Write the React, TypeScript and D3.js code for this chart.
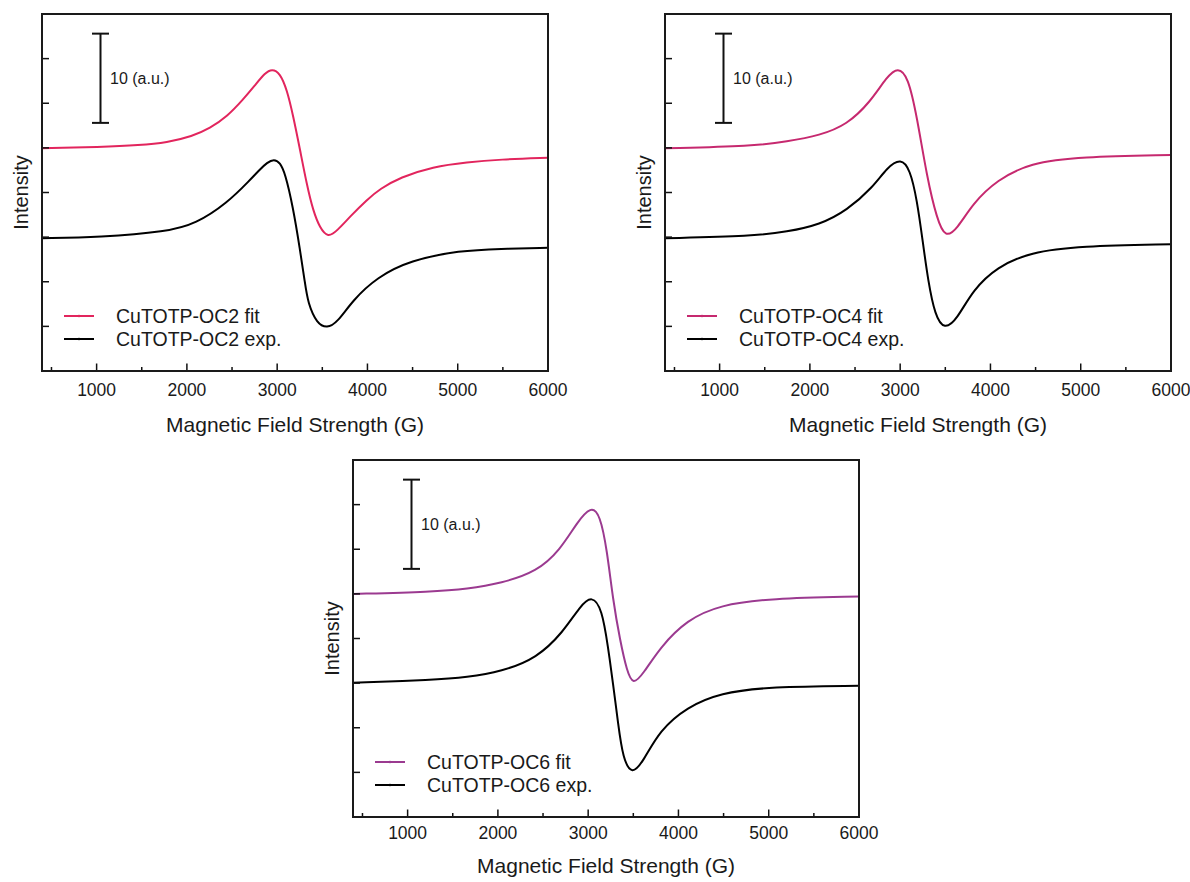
import React from 'react';
import * as d3 from 'd3';

const W = 1190;
const H = 882;

const fieldDomain: [number, number] = [395, 6000];
const intensityDomain: [number, number] = [0, 40];
const majorFieldTicks = [1000, 2000, 3000, 4000, 5000, 6000];
const minorFieldTicks = [500, 1500, 2500, 3500, 4500, 5500];
const intensityTicks = [5, 10, 15, 20, 25, 30, 35];
const scaleBarRange: [number, number] = [27.8, 37.8];
const scaleBarLabel = '10 (a.u.)';
const xTitle = 'Magnetic Field Strength (G)';
const yTitle = 'Intensity';

// [field (G), intensity (a.u.)]
const oc2Fit: [number, number][] = [
  [395, 24.95], [1037, 25.1], [1480, 25.3], [1780, 25.6], [2060, 26.3], [2256, 27.2],
  [2444, 28.5], [2621, 30.4], [2754, 32.0], [2865, 33.4], [2943, 33.85], [3031, 33.4],
  [3109, 31.5], [3175, 28.7], [3253, 24.8], [3330, 20.8], [3397, 18.0], [3474, 16.0],
  [3563, 14.95], [3663, 15.7], [3807, 17.3], [3995, 19.2], [4139, 20.4], [4361, 21.7],
  [4726, 22.9], [5103, 23.4], [5468, 23.7], [6000, 23.9],
];
const oc2Exp: [number, number][] = [
  [395, 14.87], [1037, 14.98], [1780, 15.6], [2100, 16.5], [2444, 18.8], [2699, 21.4],
  [2810, 22.6], [2888, 23.35], [2965, 23.75], [3031, 23.35], [3087, 22.2], [3175, 18.4],
  [3253, 13.6], [3308, 9.86], [3341, 7.6], [3441, 5.3], [3552, 4.8], [3663, 5.4],
  [3840, 7.96], [4106, 10.5], [4471, 12.4], [5025, 13.5], [5468, 13.7], [6000, 13.8],
];
const oc4Fit: [number, number][] = [
  [395, 24.95], [1370, 25.2], [1746, 25.7], [2112, 26.4], [2411, 27.6], [2666, 30.1],
  [2854, 33.0], [2976, 34.05], [3087, 33.0], [3186, 28.5], [3297, 21.7], [3408, 17.0],
  [3500, 14.9], [3630, 15.9], [3807, 18.8], [4073, 21.4], [4438, 23.3], [4992, 24.0],
  [6000, 24.2],
];
const oc4Exp: [number, number][] = [
  [395, 14.87], [1370, 15.1], [1746, 15.6], [2112, 16.4], [2411, 18.0], [2699, 20.6],
  [2854, 22.8], [3009, 23.85], [3109, 22.6], [3186, 19.2], [3253, 14.3], [3308, 10.2],
  [3386, 6.2], [3490, 4.6], [3630, 5.8], [3807, 9.1], [4073, 11.65], [4438, 13.3],
  [4992, 14.0], [6000, 14.2],
];
const oc6Fit: [number, number][] = [
  [395, 24.99], [1281, 25.24], [1658, 25.55], [2040, 26.2], [2433, 27.5], [2688, 29.9],
  [2876, 33.0], [3031, 34.85], [3131, 33.9], [3209, 29.9], [3275, 24.3], [3353, 19.8],
  [3430, 16.3], [3497, 14.8], [3607, 16.0], [3796, 19.0], [4095, 22.1], [4460, 23.75],
  [5014, 24.5], [6000, 24.7],
];
const oc6Exp: [number, number][] = [
  [395, 15.05], [1281, 15.35], [1658, 15.65], [2040, 16.3], [2433, 17.8], [2721, 20.7],
  [2909, 23.6], [3042, 24.85], [3153, 23.3], [3220, 19.05], [3275, 15.0], [3331, 10.5],
  [3386, 6.5], [3486, 4.7], [3607, 6.2], [3796, 9.75], [4095, 12.3], [4460, 13.9],
  [5014, 14.6], [6000, 14.7],
];

const sampleNames = ['CuTOTP-OC2', 'CuTOTP-OC4', 'CuTOTP-OC6'];
const fitColors = ['#E2255D', '#C6296F', '#9B3A90'];

const FONT = '"Liberation Sans", Arial, sans-serif';
const PW = 506;
const PH = 357;
const layout = [
  { left: 42, top: 14, tickDy: 25, titleDy: 61 },
  { left: 665, top: 14, tickDy: 25, titleDy: 61 },
  { left: 353, top: 460, tickDy: 22, titleDy: 56 },
];
const series = [
  { fit: oc2Fit, exp: oc2Exp },
  { fit: oc4Fit, exp: oc4Exp },
  { fit: oc6Fit, exp: oc6Exp },
];

function Panel({ i }: { i: number }) {
  const { left, top, tickDy, titleDy } = layout[i];
  const x = d3.scaleLinear().domain(fieldDomain).range([0, PW]);
  const y = d3.scaleLinear().domain(intensityDomain).range([PH, 0]);
  const line = d3
    .line<[number, number]>()
    .x((d) => x(d[0]))
    .y((d) => y(d[1]))
    .curve(d3.curveBasis);
  const color = fitColors[i];
  const name = sampleNames[i];
  const sbX = 58.5;
  const sbTop = y(scaleBarRange[1]);
  const sbBot = y(scaleBarRange[0]);
  return (
    <g transform={`translate(${left},${top})`}>
      <defs>
        <clipPath id={`clip${i}`}>
          <rect x={0} y={0} width={PW} height={PH} />
        </clipPath>
      </defs>
      <g clipPath={`url(#clip${i})`}>
        <path d={line(series[i].fit) || ''} fill="none" stroke={color} strokeWidth={2} />
        <path d={line(series[i].exp) || ''} fill="none" stroke="#000" strokeWidth={2} />
      </g>
      {intensityTicks.map((t) => (
        <line key={'y' + t} x1={0} x2={7} y1={y(t)} y2={y(t)} stroke="#111" strokeWidth={1.5} />
      ))}
      {majorFieldTicks.map((t) => (
        <line key={'xm' + t} x1={x(t)} x2={x(t)} y1={PH} y2={PH - 7.5} stroke="#111" strokeWidth={1.5} />
      ))}
      {minorFieldTicks.map((t) => (
        <line key={'xn' + t} x1={x(t)} x2={x(t)} y1={PH} y2={PH - 4} stroke="#111" strokeWidth={1.5} />
      ))}
      <rect x={0} y={0} width={PW} height={PH} fill="none" stroke="#1a1a1a" strokeWidth={2} />
      {majorFieldTicks.map((t) => (
        <text key={'xl' + t} x={x(t)} y={PH + tickDy} textAnchor="middle" fontSize={17.5} fontFamily={FONT} fill="#1a1a1a">
          {t}
        </text>
      ))}
      <text x={PW / 2} y={PH + titleDy} textAnchor="middle" fontSize={21} fontFamily={FONT} fill="#1a1a1a">
        {xTitle}
      </text>
      <text
        transform={`translate(-14,${PH / 2}) rotate(-90)`}
        textAnchor="middle"
        fontSize={20}
        fontFamily={FONT}
        fill="#1a1a1a"
      >
        {yTitle}
      </text>
      <line x1={sbX} x2={sbX} y1={sbTop} y2={sbBot} stroke="#111" strokeWidth={2} />
      <line x1={sbX - 8.5} x2={sbX + 8.5} y1={sbTop} y2={sbTop} stroke="#111" strokeWidth={2} />
      <line x1={sbX - 8.5} x2={sbX + 8.5} y1={sbBot} y2={sbBot} stroke="#111" strokeWidth={2} />
      <text x={68} y={(sbTop + sbBot) / 2 + 6} fontSize={16} fontFamily={FONT} fill="#1a1a1a">
        {scaleBarLabel}
      </text>
      {[
        { c: color, label: `${name} fit`, yy: 302 },
        { c: '#000', label: `${name} exp.`, yy: 325 },
      ].map((l) => (
        <g key={l.label}>
          <line x1={22} x2={52} y1={l.yy} y2={l.yy} stroke={l.c} strokeWidth={2} />
          <circle cx={37} cy={l.yy} r={1.3} fill={l.c} />
          <text x={74} y={l.yy + 6.5} fontSize={19.5} fontFamily={FONT} fill="#1a1a1a">
            {l.label}
          </text>
        </g>
      ))}
    </g>
  );
}

export default function App() {
  return (
    <svg
      width={W}
      height={H}
      viewBox={`0 0 ${W} ${H}`}
      style={{ position: 'absolute', left: 0, top: 0, background: '#fff' }}
    >
      <rect x={0} y={0} width={W} height={H} fill="#fff" />
      {layout.map((_, i) => (
        <Panel key={i} i={i} />
      ))}
    </svg>
  );
}
